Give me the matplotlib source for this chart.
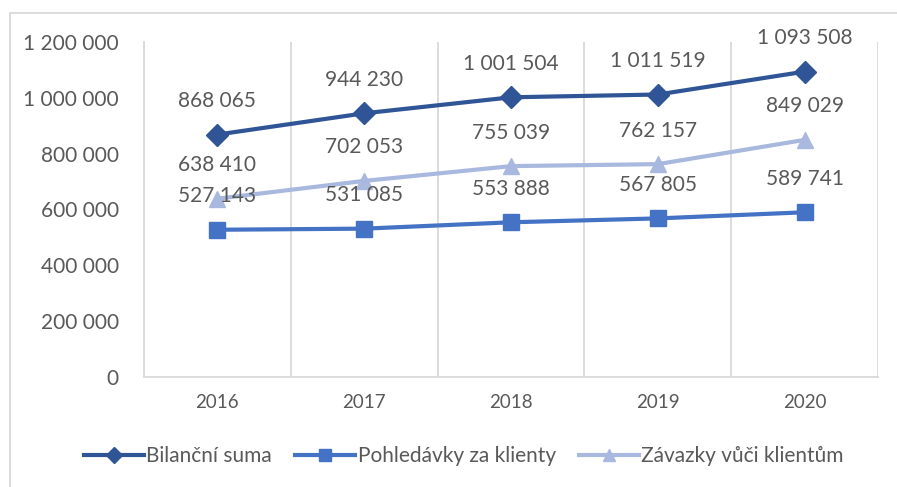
import matplotlib.pyplot as plt
from matplotlib.ticker import FuncFormatter, MultipleLocator

plt.rcParams["font.family"] = ["Lato", "DejaVu Sans"]

years = ["2016", "2017", "2018", "2019", "2020"]
bilancni = [868065, 944230, 1001504, 1011519, 1093508]
pohledavky = [527143, 531085, 553888, 567805, 589741]
zavazky = [638410, 702053, 755039, 762157, 849029]

series = [
    ("Bilanční suma", bilancni, "#2F5597", "D", 11),
    ("Pohledávky za klienty", pohledavky, "#4472C4", "s", 11),
    ("Závazky vůči klientům", zavazky, "#A9B8DE", "^", 11),
]

text_color = "#595959"
grid_color = "#D9D9D9"

fig = plt.figure(figsize=(8.97, 4.87), dpi=100)
ax = fig.add_axes([0.1605, 0.226, 0.8185, 0.688])

x = list(range(len(years)))
for name, vals, color, marker, ms in series:
    ax.plot(x, vals, color=color, lw=3, marker=marker, ms=ms, label=name)
    for xi, v in zip(x, vals):
        label = f"{v:,}".replace(",", " ")
        ax.annotate(label, (xi, v), xytext=(0, 17), textcoords="offset points",
                    ha="center", va="bottom", fontsize=15, color=text_color)

ax.set_xlim(-0.5, 4.5)
ax.set_ylim(0, 1200000)
ax.set_xticks(x)
ax.set_xticklabels(years)
ax.set_xticks([i - 0.5 for i in range(len(years) + 1)], minor=True)
ax.grid(True, which="minor", axis="x", color=grid_color, lw=1.3)
ax.yaxis.set_major_locator(MultipleLocator(200000))
ax.yaxis.set_major_formatter(FuncFormatter(lambda v, p: f"{int(v):,}".replace(",", " ")))
ax.tick_params(axis="both", which="both", length=0, colors=text_color, labelsize=15)
ax.tick_params(axis="x", labelsize=13.5, pad=12)
ax.tick_params(axis="y", pad=18)
for s in ["top", "right"]:
    ax.spines[s].set_visible(False)
for s in ["left", "bottom"]:
    ax.spines[s].set_color(grid_color)
    ax.spines[s].set_linewidth(1.3)

leg = fig.legend(loc="center", bbox_to_anchor=(0.517, 0.063), ncol=3, frameon=False,
                 fontsize=15, handlelength=2.9, handletextpad=0.1, columnspacing=1.1,
                 markerscale=0.75, labelcolor=text_color)

# outer chart border
border = plt.Rectangle((10 / 897, -0.1), 1.2, 1.1 - 13 / 487, transform=fig.transFigure,
                       fill=False, edgecolor=grid_color, lw=1.3)
fig.add_artist(border)

fig.savefig("out.png", dpi=100)
